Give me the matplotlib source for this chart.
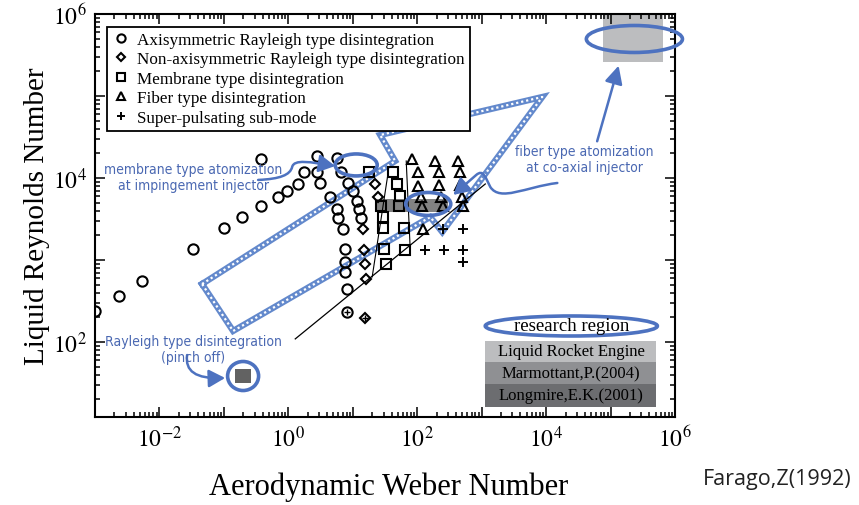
"""Liquid jet disintegration regimes (Farago 1992) with research-region overlay."""

import matplotlib

matplotlib.use("Agg")
import matplotlib.pyplot as plt
import numpy as np
from matplotlib.patches import Ellipse, FancyArrowPatch, Rectangle
from matplotlib.path import Path
from matplotlib.ticker import FuncFormatter, LogLocator

plt.rcParams["font.family"] = ["Liberation Serif", "DejaVu Serif"]
plt.rcParams["mathtext.fontset"] = "stix"

# ---- regime data (Weber number, Reynolds number) ----
circle_we = [0.0010, 0.00236, 0.00537, 0.0333, 0.101, 0.192, 0.378, 0.695, 0.957,
             1.42, 1.76, 2.80, 3.12, 0.378, 2.80, 5.73, 6.61, 8.49, 10.1, 4.46,
             11.7, 5.73, 12.6, 5.93, 13.5, 7.10, 7.62, 7.62, 7.62, 8.18, 8.18]
circle_re = [239, 364, 555, 1361, 2455, 3342, 4560, 5861, 6934,
             8453, 11830, 11830, 8690, 17060, 18530, 17540, 11830, 8690, 6934, 5861,
             5248, 4188, 4188, 3251, 3251, 2388, 1361, 946, 714, 443, 232]

diamond_we = [22.3, 24.8, 14.5, 15.0, 15.6, 16.1, 15.6]
diamond_re = [8450, 5860, 2390, 1320, 893, 586, 196]

square_we = [18.0, 42.4, 48.9, 54.5, 27.6, 52.5, 29.6, 29.6, 62.8, 30.8, 65.2, 33.0]
square_re = [11830, 11830, 8450, 6030, 4560, 4560, 3340, 2450, 2450, 1360, 1320, 893]

triangle_we = [83.6, 190.5, 433.5, 103.8, 219.8, 465.6, 103.8, 219.8, 465.6,
               115.3, 236.0, 500.0, 119.7, 253.5, 517.6, 123.9]
triangle_re = [17060, 16110, 16110, 11830, 11830, 11830, 7980, 8220, 8220,
               5860, 5860, 5860, 4560, 4560, 4560, 2390]

plus_we = [253.5, 517.6, 133.0, 262.4, 517.6, 517.6]
plus_re = [2390, 2390, 1320, 1320, 1320, 946]

# crossed markers (circle / diamond with a cross inside)
crossed_we = [8.18, 15.6]
crossed_re = [232, 196]

legend_labels = [
    "Axisymmetric Rayleigh type disintegration",
    "Non-axisymmetric Rayleigh type disintegration",
    "Membrane type disintegration",
    "Fiber type disintegration",
    "Super-pulsating sub-mode",
]

# regime boundary lines
diag_we, diag_re = [1.28, 1138], [109, 8450]
bound1_we, bound1_re = [35.5, 20.0], [11830, 621]
bound2_we, bound2_re = [67.5, 77.8], [16110, 1361]

# research regions: (We_min, We_max, Re_min, Re_max)
region_names = ["Liquid Rocket Engine", "Marmottant,P.(2004)", "Longmire,E.K.(2001)"]
region_colors = ["#bcbdbf", "#8f9093", "#6c6d70"]
region_boxes = [(7.73e4, 6.61e5, 2.6e5, 1.0e6),
                (23.9, 303, 3846, 5546),
                (0.149, 0.264, 31.6, 46.9)]
region_fill = ["#bcbdbf", "#828282", "#626262"]

# big hatched arrow outline (log10 We, log10 Re)
arrow_lx = [-1.339, 1.658, 1.425, 3.941, 2.388, 2.202, -0.857, -1.339]
arrow_ly = [2.707, 4.207, 4.524, 4.988, 3.341, 3.524, 2.134, 2.707]

BLUE = "#4d72c0"
TBLUE = "#4a68b2"

fig = plt.figure(figsize=(8.59, 5.06), dpi=100)
ax = fig.add_axes([0.1106, 0.1739, 0.6752, 0.7965])
ax.set_xscale("log")
ax.set_yscale("log")
ax.set_xlim(1e-3, 1e6)
ax.set_ylim(10 ** 1.085, 1e6)
logt = ax.transLimits + ax.transAxes  # log10-space -> display

# research region shading
for (x0, x1, y0, y1), c in zip(region_boxes, region_fill):
    ax.add_patch(Rectangle((x0, y0), x1 - x0, y1 - y0, fc=c, ec="none", zorder=1))

# hatched arrow
ax.plot(arrow_lx, arrow_ly, color="#6389cc", lw=4.5, transform=logt, zorder=2,
        solid_joinstyle="miter")
ax.plot(arrow_lx, arrow_ly, color="white", lw=1.6, ls=(0, (1.0, 1.3)), transform=logt,
        zorder=2.1)

# boundaries
ax.plot(diag_we, diag_re, color="black", lw=0.9, zorder=3)
ax.plot(bound1_we, bound1_re, color="black", lw=0.8, zorder=3)
ax.plot(bound2_we, bound2_re, color="black", lw=0.8, zorder=3)

mk = dict(ls="none", mfc="none", mec="black", mew=1.5, zorder=4)
h1, = ax.plot(circle_we, circle_re, "o", ms=7.4, **mk)
h2, = ax.plot(diamond_we, diamond_re, "D", ms=5.5, **mk)
h3, = ax.plot(square_we, square_re, "s", ms=6.8, **mk)
h4, = ax.plot(triangle_we, triangle_re, "^", ms=7.6, **mk)
h5, = ax.plot(plus_we, plus_re, "+", ms=7, mew=1.4, color="black", ls="none", zorder=4)
ax.plot(crossed_we, crossed_re, "+", ms=5, mew=1.0, color="black", ls="none", zorder=4)

leg = ax.legend([h1, h2, h3, h4, h5], legend_labels, loc="upper left",
                bbox_to_anchor=(0.0207, 0.968), borderaxespad=0, fontsize=12.3,
                frameon=True, fancybox=False, edgecolor="black", framealpha=1,
                labelspacing=0.2, handlelength=1.0, handletextpad=0.45,
                borderpad=0.3, markerscale=0.8)
leg.get_frame().set_linewidth(1.3)
leg.set_zorder(5)

# blue ellipses (log10 centre, widths in decades)
ellipses = [((1.053, 4.159), 0.652, 0.268),
            ((2.171, 3.683), 0.699, 0.280),
            ((5.370, 5.695), 1.491, 0.329),
            ((-0.702, 1.585), 0.481, 0.354),
            ((4.391, 2.195), 2.671, 0.244)]
for (cx, cy), w, h in ellipses:
    ax.add_patch(Ellipse((cx, cy), w, h, transform=logt, fc="none", ec=BLUE, lw=2.6,
                         zorder=6, clip_on=False))

# blue annotation arrows
arrow_kw = dict(arrowstyle="-|>,head_length=0.55,head_width=0.3", mutation_scale=18,
                color=BLUE, lw=1.8, transform=logt, zorder=6)
C4, L2, M = Path.CURVE4, Path.LINETO, Path.MOVETO
memb = Path([(-0.469, 3.976), (-0.127, 3.988), (0.028, 4.037), (0.059, 4.134),
             (0.090, 4.232), (0.339, 4.195), (0.727, 4.146)], [M, C4, C4, C4, C4, C4, C4])
fiber = Path([(4.174, 3.939), (3.677, 3.890), (3.289, 3.707), (3.134, 3.890),
              (3.056, 4.012), (3.025, 4.110), (2.916, 4.037), (2.559, 3.793)],
             [M, C4, C4, C4, C4, C4, C4, L2])
rayl = Path([(-1.571, 1.841), (-1.602, 1.646), (-1.447, 1.549), (-0.981, 1.561)],
            [M, C4, C4, C4])
for p in (memb, fiber, rayl):
    ax.add_patch(FancyArrowPatch(path=p, **arrow_kw))
ax.annotate("", xy=(10 ** 5.137, 10 ** 5.402), xytext=(10 ** 4.78, 10 ** 4.415),
            arrowprops=dict(arrowstyle="-|>,head_length=0.6,head_width=0.3",
                            mutation_scale=18, color=BLUE, lw=1.8), zorder=6)

note_kw = dict(color=TBLUE, ha="center", va="center", fontsize=10,
               family="DejaVu Sans", fontstretch="condensed", linespacing=1.15, zorder=6)
ax.text(10 ** -1.478, 10 ** 4.012, "membrane type atomization\nat impingement injector", **note_kw)
ax.text(10 ** 4.593, 10 ** 4.232, "fiber type atomization\nat co-axial injector", **note_kw)
ax.text(10 ** -1.478, 10 ** 1.915, "Rayleigh type disintegration\n(pinch off)", **note_kw)

# research region table
table_x = (10 ** 3.056, 10 ** 5.711)
row_edges = [10 ** 2.012, 10 ** 1.756, 10 ** 1.488, 10 ** 1.207]
for i, (name, c) in enumerate(zip(region_names, region_colors)):
    ax.add_patch(Rectangle((table_x[0], row_edges[i + 1]), table_x[1] - table_x[0],
                           row_edges[i] - row_edges[i + 1], fc=c, ec="none", zorder=5))
    ymid = np.sqrt(row_edges[i] * row_edges[i + 1])
    ax.text(10 ** 4.39, ymid, name, ha="center", va="center", fontsize=12, zorder=6)
ax.text(10 ** 4.391, 10 ** 2.195, "research region", ha="center", va="center",
        fontsize=13.5, zorder=6)

# axes styling
for s in ax.spines.values():
    s.set_linewidth(1.5)
for axis in (ax.xaxis, ax.yaxis):
    axis.set_major_locator(LogLocator(base=10, numticks=20))
    axis.set_minor_locator(LogLocator(base=10, subs=np.arange(2, 10) * 1.0, numticks=20))
    axis.set_major_formatter(FuncFormatter(
        lambda v, p: f"$10^{{{int(round(np.log10(v)))}}}$"
        if int(round(np.log10(v))) % 2 == 0 else ""))
ax.tick_params(which="both", direction="in", top=True, right=True, width=1.1,
               labelsize=17, pad=6)
ax.tick_params(which="major", length=7)
ax.tick_params(which="minor", length=3.5)

ax.set_xlabel("Aerodynamic Weber Number", fontsize=22)
ax.set_ylabel("Liquid Reynolds Number", fontsize=21)
ax.xaxis.set_label_coords(0.507, -0.135)
ax.yaxis.set_label_coords(-0.078, 0.5)

fig.text(703 / 859, 1 - 480 / 506, "Farago,Z(1992)", ha="left", va="center",
         fontsize=15.5, family="Open Sans", color="#222222")

fig.savefig("out.png", dpi=100)
